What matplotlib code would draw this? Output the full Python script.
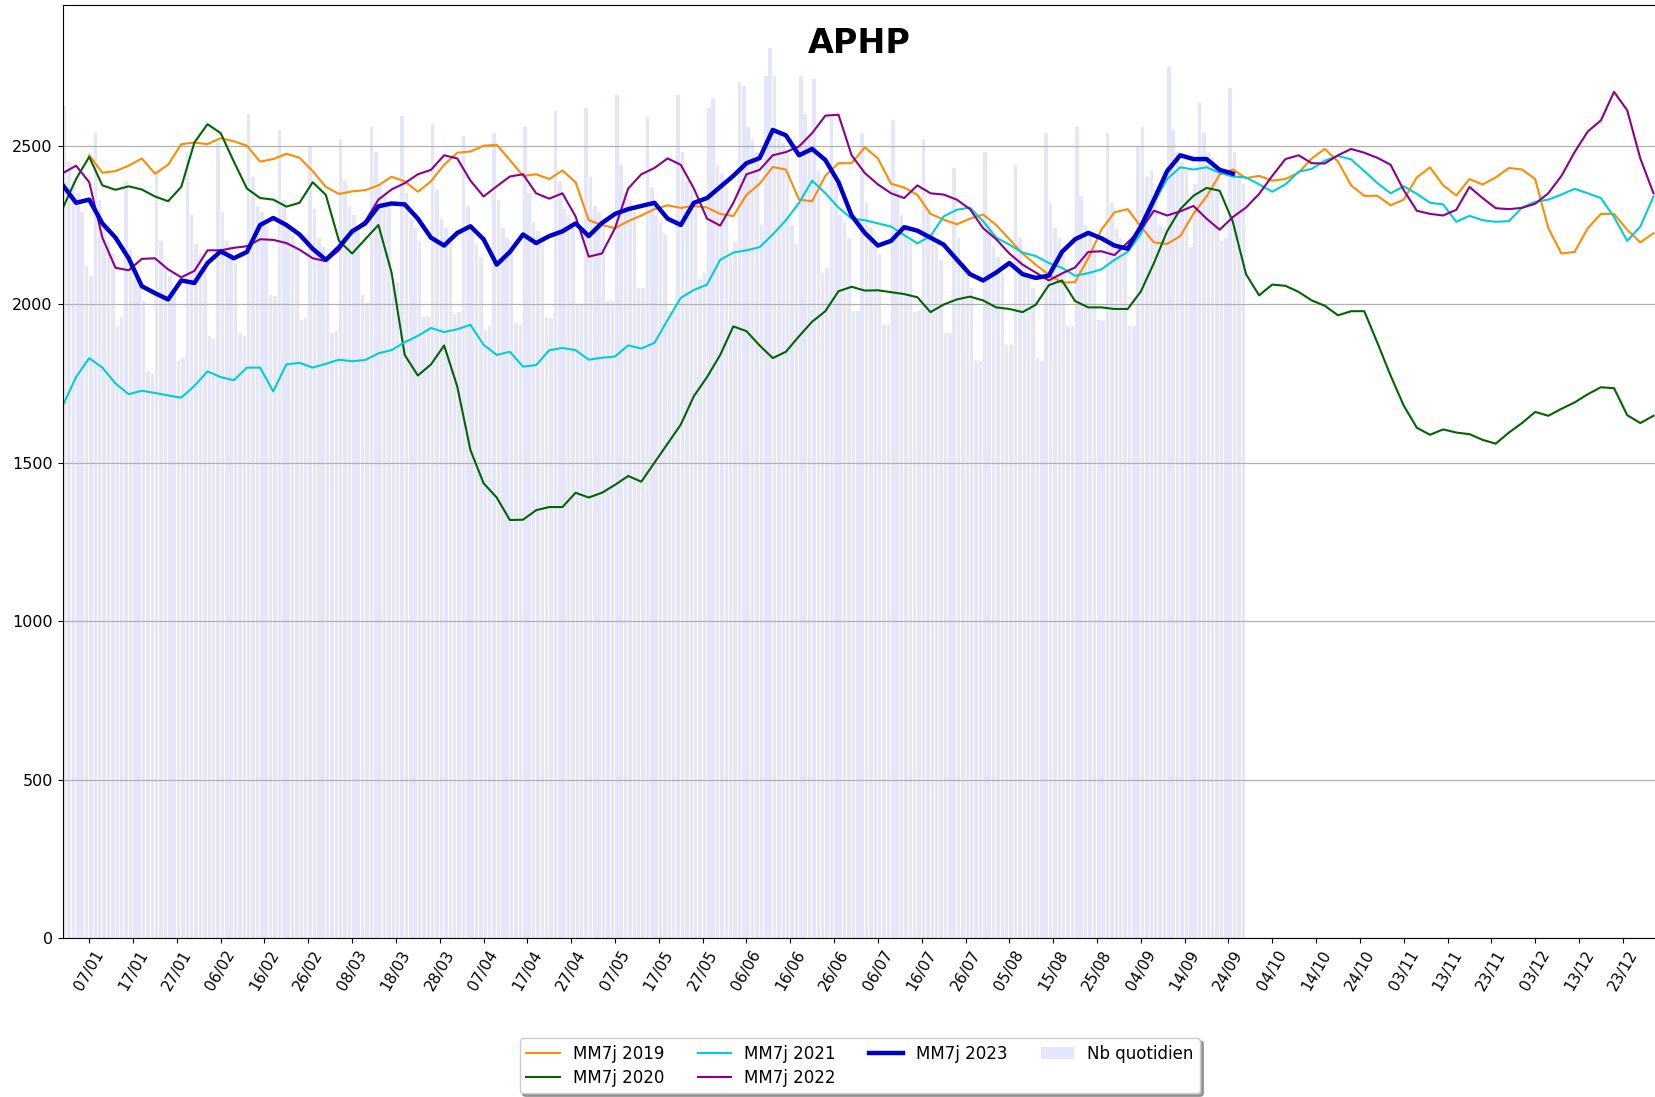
import numpy as np
import pandas as pd
import matplotlib
matplotlib.use('Agg')
import matplotlib.pyplot as plt
from matplotlib.patches import Patch
from matplotlib.lines import Line2D

# 7-day moving averages, one value every 3 days
STEP = 3
START = pd.Timestamp('2023-01-01')

# 2019 starts on day 6 (first full 7-day window)
mm7_2019 = [2470, 2415, 2420, 2437, 2460, 2412, 2440, 2505, 2510, 2505,
            2524, 2514, 2500, 2450, 2458, 2475, 2462, 2420, 2370, 2348,
            2356, 2360, 2375, 2402, 2388, 2355, 2388, 2440, 2478, 2482,
            2500, 2503, 2455, 2405, 2410, 2395, 2422, 2385, 2265, 2250,
            2240, 2262, 2280, 2300, 2312, 2304, 2310, 2305, 2285, 2278,
            2345, 2380, 2433, 2425, 2330, 2325, 2405, 2445, 2445, 2495,
            2460, 2380, 2368, 2345, 2285, 2267, 2252, 2270, 2283, 2250,
            2205, 2160, 2125, 2093, 2068, 2070, 2145, 2235, 2290, 2300,
            2245, 2195, 2190, 2215, 2285, 2340, 2409, 2425, 2398, 2405,
            2390, 2395, 2415, 2460, 2490, 2450, 2375, 2342, 2342, 2312,
            2330, 2400, 2432, 2375, 2343, 2395, 2378, 2400, 2430, 2425,
            2395, 2240, 2160, 2165, 2240, 2285, 2285, 2235, 2195, 2224]

mm7_2020 = [2304, 2395, 2465, 2375, 2361, 2372, 2362, 2340, 2325, 2370,
            2510, 2568, 2540, 2450, 2365, 2335, 2330, 2308, 2320, 2385,
            2345, 2200, 2160, 2205, 2250, 2100, 1840, 1775, 1810, 1870,
            1740, 1540, 1435, 1390, 1319, 1320, 1350, 1360, 1360, 1405,
            1390, 1405, 1430, 1458, 1440, 1500, 1560, 1620, 1710, 1770,
            1840, 1930, 1915, 1870, 1830, 1850, 1899, 1945, 1978, 2041,
            2055, 2043, 2044, 2038, 2032, 2022, 1975, 1999, 2015, 2024,
            2012, 1990, 1985, 1975, 1998, 2060, 2075, 2010, 1990, 1990,
            1985, 1985, 2040, 2130, 2230, 2300, 2342, 2367, 2358, 2260,
            2095, 2028, 2062, 2058, 2039, 2012, 1995, 1965, 1978, 1978,
            1878, 1775, 1680, 1610, 1588, 1605, 1595, 1590, 1572, 1560,
            1595, 1625, 1660, 1648, 1670, 1690, 1716, 1738, 1735, 1650,
            1625, 1648]

mm7_2021 = [1681, 1770, 1830, 1800, 1750, 1716, 1727, 1720, 1712, 1705,
            1742, 1788, 1770, 1760, 1800, 1800, 1725, 1810, 1815, 1800,
            1812, 1825, 1820, 1824, 1845, 1855, 1880, 1900, 1925, 1912,
            1921, 1935, 1872, 1840, 1850, 1803, 1808, 1855, 1862, 1855,
            1825, 1831, 1835, 1870, 1860, 1878, 1950, 2020, 2045, 2062,
            2140, 2163, 2170, 2180, 2220, 2265, 2320, 2390, 2350, 2305,
            2270, 2265, 2255, 2245, 2218, 2192, 2215, 2277, 2298, 2305,
            2262, 2210, 2188, 2163, 2152, 2130, 2115, 2090, 2098, 2110,
            2140, 2165, 2222, 2320, 2395, 2432, 2425, 2432, 2415, 2403,
            2400, 2378, 2355, 2378, 2418, 2427, 2453, 2468, 2457, 2420,
            2382, 2350, 2372, 2348, 2320, 2315, 2260, 2279, 2265, 2260,
            2262, 2305, 2323, 2330, 2346, 2364, 2350, 2335, 2275, 2200,
            2245, 2340]

mm7_2022 = [2414, 2437, 2385, 2210, 2115, 2107, 2143, 2145, 2110, 2085,
            2105, 2170, 2170, 2178, 2183, 2205, 2203, 2193, 2172, 2145,
            2136, 2170, 2230, 2262, 2330, 2362, 2382, 2410, 2424, 2470,
            2460, 2390, 2340, 2372, 2403, 2410, 2350, 2333, 2350, 2277,
            2150, 2160, 2240, 2365, 2410, 2430, 2460, 2440, 2365, 2270,
            2248, 2320, 2410, 2424, 2470, 2480, 2498, 2540, 2595, 2598,
            2470, 2414, 2378, 2350, 2335, 2375, 2350, 2346, 2330, 2300,
            2240, 2205, 2160, 2125, 2100, 2075, 2097, 2116, 2165, 2167,
            2155, 2195, 2235, 2295, 2280, 2293, 2310, 2270, 2235, 2275,
            2305, 2348, 2405, 2458, 2470, 2445, 2444, 2470, 2490, 2478,
            2462, 2440, 2360, 2295, 2285, 2280, 2298, 2370, 2335, 2303,
            2300, 2304, 2317, 2350, 2405, 2480, 2545, 2580, 2670, 2612,
            2460, 2350]

mm7_2023 = [2375, 2320, 2330, 2255, 2210, 2145, 2057, 2035, 2015, 2075,
            2067, 2130, 2167, 2145, 2165, 2250, 2272, 2250, 2220, 2175,
            2140, 2180, 2230, 2255, 2309, 2318, 2315, 2270, 2210, 2185,
            2225, 2246, 2205, 2125, 2165, 2220, 2193, 2215, 2230, 2255,
            2215, 2256, 2285, 2300, 2310, 2320, 2270, 2250, 2320, 2335,
            2370, 2405, 2445, 2461, 2550, 2533, 2470, 2490, 2455, 2385,
            2280, 2225, 2185, 2200, 2243, 2232, 2210, 2188, 2141, 2095,
            2075, 2100, 2130, 2095, 2083, 2090, 2165, 2205, 2225, 2208,
            2185, 2175, 2245, 2330, 2420, 2470, 2458, 2458, 2424, 2412]

# daily counts 2023 (one row per week)
daily_2023 = [2626, 2450, 2390, 2350, 2290, 2120, 2090,
              2540, 2330, 2240, 2200, 2160, 1930, 1960,
              2390, 2170, 2080, 2060, 2010, 1790, 1780,
              2420, 2200, 2120, 2090, 2040, 1820, 1830,
              2480, 2280, 2190, 2160, 2110, 1900, 1890,
              2510, 2290, 2200, 2180, 2130, 1910, 1900,
              2600, 2400, 2310, 2290, 2250, 2030, 2025,
              2550, 2330, 2250, 2220, 2180, 1950, 1955,
              2500, 2300, 2210, 2180, 2140, 1910, 1915,
              2520, 2390, 2310, 2280, 2250, 2030, 2005,
              2560, 2480, 2380, 2350, 2320, 2080, 2070,
              2593, 2350, 2270, 2240, 2200, 1960, 1960,
              2570, 2360, 2270, 2240, 2190, 1970, 1975,
              2530, 2310, 2230, 2190, 2150, 1920, 1930,
              2540, 2330, 2240, 2210, 2170, 1940, 1935,
              2560, 2350, 2260, 2230, 2190, 1960, 1955,
              2610, 2390, 2300, 2280, 2240, 2000, 1999,
              2620, 2400, 2310, 2290, 2250, 2010, 2010,
              2660, 2440, 2350, 2330, 2290, 2050, 2050,
              2590, 2370, 2280, 2260, 2220, 1980, 1980,
              2660, 2480, 2390, 2360, 2310, 2080, 2100,
              2620, 2650, 2440, 2410, 2370, 2150, 2195,
              2700, 2690, 2560, 2520, 2480, 2250, 2720,
              2810, 2720, 2550, 2510, 2470, 2250, 2190,
              2720, 2600, 2520, 2710, 2420, 2100, 2115,
              2590, 2380, 2280, 2260, 2210, 1980, 1980,
              2540, 2320, 2240, 2200, 2160, 1935, 1935,
              2580, 2360, 2280, 2250, 2200, 1975, 1980,
              2520, 2300, 2220, 2190, 2140, 1910, 1910,
              2430, 2210, 2130, 2100, 2050, 1820, 1820,
              2480, 2260, 2180, 2150, 2100, 1870, 1870,
              2440, 2210, 2130, 2100, 2050, 1830, 1820,
              2540, 2320, 2240, 2210, 2160, 1930, 1930,
              2560, 2340, 2250, 2230, 2180, 1950, 1946,
              2540, 2320, 2240, 2210, 2160, 1930, 1930,
              2500, 2560, 2400, 2420, 2360, 2250, 2240,
              2750, 2550, 2480, 2450, 2420, 2180, 2380,
              2636, 2540, 2480, 2460, 2420, 2200, 2210,
              2683, 2480, 2410, 2380]

series = [('MM7j 2019', mm7_2019, 6, 'darkorange', 1.5),
          ('MM7j 2020', mm7_2020, 0, 'darkgreen', 1.5),
          ('MM7j 2021', mm7_2021, 0, 'darkturquoise', 1.5),
          ('MM7j 2022', mm7_2022, 0, 'darkmagenta', 1.5),
          ('MM7j 2023', mm7_2023, 0, 'mediumblue', 3.2)]


def sample_dates(first_day, n):
    return START + pd.to_timedelta(first_day + STEP * np.arange(n), unit='D')


fig = plt.figure(figsize=(16.55, 10.97), dpi=100)
ax = fig.add_axes([0.0378, 0.1449, 0.9634, 0.8505])

# daily bars
bar_dates = pd.date_range(START, periods=len(daily_2023), freq='D')
ax.bar(bar_dates, daily_2023, width=0.8, align='edge', color='lavender', zorder=1)

handles = []
for label, values, first, color, lw in series:
    ax.plot(sample_dates(first, len(values)), values, color=color, linewidth=lw, zorder=2)
    handles.append(Line2D([], [], color=color, linewidth=lw, label=label))
handles.append(Patch(facecolor='lavender', label='Nb quotidien'))

ax.set_xlim(START - pd.Timedelta(hours=2), START + pd.Timedelta(days=363.8))
ax.set_ylim(0, 2944)

ticks = pd.date_range('2023-01-07', '2023-12-31', freq='10D')
ax.set_xticks(ticks)
ax.set_xticklabels([t.strftime('%d/%m') for t in ticks], rotation=60, fontsize=11)
ax.tick_params(axis='y', labelsize=11.5)

ax.set_axisbelow('line')
ax.yaxis.grid(True, color='#b0b0b0', linewidth=0.9)

ax.text(0.5, 0.9486, 'APHP', transform=ax.transAxes, ha='center', va='baseline',
        fontsize=24, fontweight='bold')

fig.legend(handles=handles, loc='upper center', bbox_to_anchor=(0.5197, 0.0535),
           ncol=4, fontsize=12, shadow=True, borderaxespad=0,
           labelspacing=0.35, borderpad=0.4)

fig.savefig('out.png', dpi=100)
